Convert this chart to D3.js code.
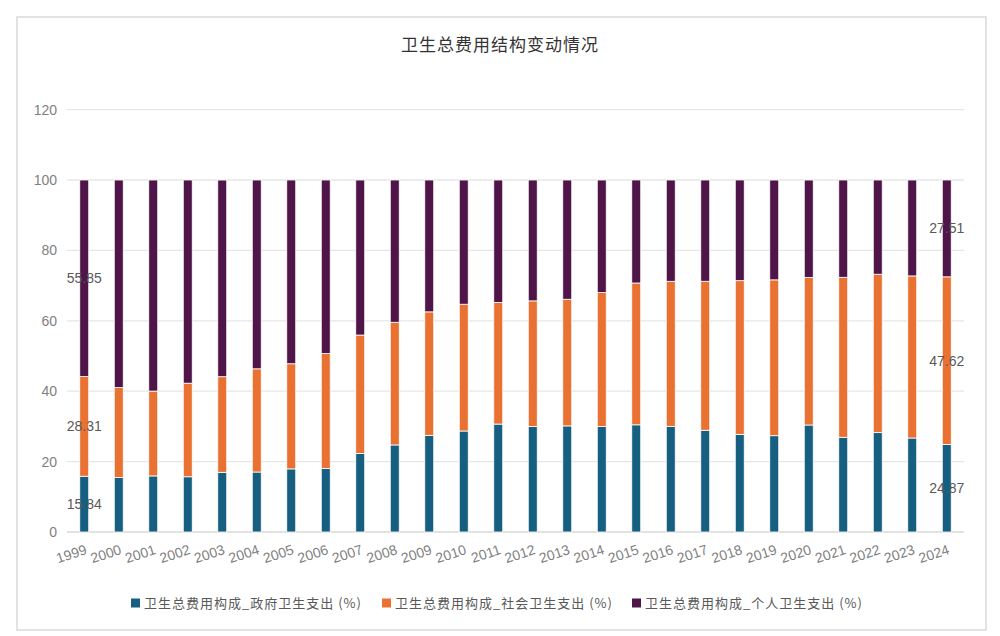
<!DOCTYPE html>
<html>
<head>
<meta charset="utf-8">
<script src="https://cdn.jsdelivr.net/npm/d3@7"></script>
<style>
  body { margin: 0; background: #fff; }
  text { font-family: "Liberation Sans", Arial, sans-serif; }
</style>
</head>
<body>
<div id="chart"></div>
<script>
//chart data
var years = ["1999","2000","2001","2002","2003","2004","2005","2006","2007","2008","2009","2010","2011","2012","2013","2014","2015","2016","2017","2018","2019","2020","2021","2022","2023","2024"];
var govt = [15.84,15.47,15.93,15.69,16.96,17.04,17.93,18.07,22.31,24.73,27.46,28.69,30.66,29.99,30.14,29.96,30.45,30.01,28.91,27.74,27.36,30.40,26.91,28.23,26.70,24.87];
var social = [28.31,25.55,24.10,26.59,27.16,29.32,29.87,32.62,33.64,34.85,35.08,36.02,34.57,35.67,35.98,38.05,40.29,41.21,42.32,43.66,44.27,41.94,45.45,45.00,46.05,47.62];
var personal = [55.85,58.98,59.97,57.72,55.87,53.64,52.21,49.31,44.05,40.42,37.46,35.29,34.77,34.34,33.88,31.99,29.27,28.78,28.77,28.61,28.36,27.65,27.64,26.77,27.25,27.51];
var seriesNames = ["卫生总费用构成_政府卫生支出 (%)","卫生总费用构成_社会卫生支出 (%)","卫生总费用构成_个人卫生支出 (%)"];
var colors = ["#165f81","#e97132","#501548"];
var yTicks = [0,20,40,60,80,100,120];

var width = 1000,
    height = 636;
var margin = {top: 109.6, left: 67, right: 36, bottom: 104};

var svg = d3.select("#chart").append("svg")
    .attr("width", width)
    .attr("height", height);

//outer frame
svg.append("rect")
    .attr("x", 17).attr("y", 17)
    .attr("width", 969).attr("height", 613)
    .attr("fill", "#fff")
    .attr("stroke", "#d9d9d9")
    .attr("stroke-width", 1.5);

//title
svg.append("text")
    .attr("x", 500).attr("y", 51)
    .attr("text-anchor", "middle")
    .style("font-family", "'Noto Sans CJK SC', sans-serif")
    .style("font-size", "17px")
    .style("letter-spacing", "1px")
    .attr("fill", "#333")
    .text("卫生总费用结构变动情况");

var x = d3.scaleBand()
    .domain(years)
    .range([margin.left, width - margin.right])
    .paddingInner(0.74)
    .paddingOuter(0.37);

var y = d3.scaleLinear()
    .domain([0, 120])
    .range([532, margin.top]);

//gridlines
svg.append("g")
    .selectAll("line")
    .data(yTicks)
    .enter()
    .append("line")
    .attr("x1", margin.left)
    .attr("x2", width - margin.right)
    .attr("y1", function(d){ return y(d); })
    .attr("y2", function(d){ return y(d); })
    .attr("stroke", function(d){ return d === 0 ? "#d9d9d9" : "#e6e6e6"; })
    .attr("stroke-width", 1.3);

//y axis labels
var yAxis = d3.axisLeft(y).tickValues(yTicks).tickSize(0).tickPadding(10);
var yg = svg.append("g")
    .attr("transform", "translate(" + (margin.left) + ",0)")
    .call(yAxis);
yg.select(".domain").remove();
yg.selectAll("text")
    .style("font-size", "14px")
    .attr("fill", "#7f7f7f");

//stack the series
var rows = years.map(function(yr, i){
    return {year: yr, g: govt[i], s: social[i], p: personal[i]};
});
var stack = d3.stack().keys(["g","s","p"]);
var layers = stack(rows);

var groups = svg.append("g")
    .selectAll("g")
    .data(layers)
    .enter()
    .append("g")
    .attr("fill", function(d, i){ return colors[i]; });

groups.selectAll("rect")
    .data(function(d){ return d; })
    .enter()
    .append("rect")
    .attr("x", function(d){ return x(d.data.year); })
    .attr("width", x.bandwidth())
    .attr("y", function(d){ return y(d[1]); })
    .attr("height", function(d){ return y(d[0]) - y(d[1]); })
    .attr("stroke", "#fff")
    .attr("stroke-width", 0.8);

//data labels on first and last bar
var labelIdx = [0, years.length - 1];
layers.forEach(function(layer){
    labelIdx.forEach(function(i){
        var d = layer[i];
        svg.append("text")
            .attr("x", x(years[i]) + x.bandwidth() / 2)
            .attr("y", y((d[0] + d[1]) / 2))
            .attr("dy", "0.35em")
            .attr("text-anchor", "middle")
            .style("font-size", "14px")
            .attr("fill", "#595959")
            .text(d3.format(".2f")(d.data[layer.key]));
    });
});

//x axis labels, slanted
svg.append("g")
    .selectAll("text")
    .data(years)
    .enter()
    .append("text")
    .attr("transform", function(d){
        return "translate(" + (x(d) + x.bandwidth() / 2) + ",543) rotate(-18)";
    })
    .attr("text-anchor", "end")
    .attr("dy", "0.8em")
    .style("font-size", "14px")
    .attr("fill", "#7f7f7f")
    .text(function(d){ return d; });

//legend
var legendX = [131, 382, 632];
var legend = svg.append("g")
    .selectAll("g")
    .data(seriesNames)
    .enter()
    .append("g")
    .attr("transform", function(d, i){ return "translate(" + legendX[i] + ",603)"; });

legend.append("rect")
    .attr("x", 0).attr("y", -4.5)
    .attr("width", 9).attr("height", 9)
    .attr("fill", function(d, i){ return colors[i]; });

legend.append("text")
    .attr("x", 13)
    .attr("dy", "0.35em")
    .style("font-family", "'Noto Sans CJK SC', sans-serif")
    .style("font-size", "13px")
    .style("letter-spacing", "1px")
    .attr("fill", "#595959")
    .text(function(d){ return d; });
</script>
</body>
</html>
